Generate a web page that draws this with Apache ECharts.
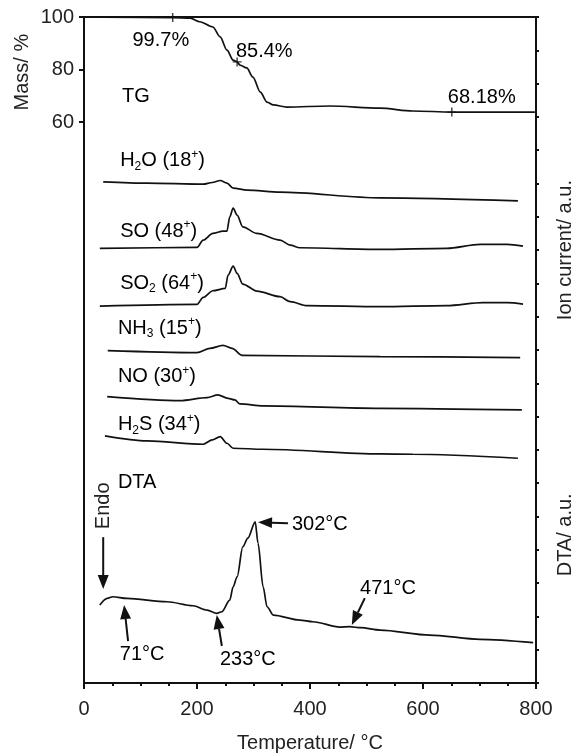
<!DOCTYPE html>
<html><head><meta charset="utf-8">
<script src="https://cdn.jsdelivr.net/npm/echarts@6/dist/echarts.min.js"></script>
<style>html,body{margin:0;padding:0;background:#fff}#c{width:576px;height:754px}</style>
</head><body><div id="c"></div>
<script>
// ---------------- data ----------------
const xTickValues = [0, 200, 400, 600, 800];
const massTickValues = [60, 80, 100];

// TG (mass %)
const tgTemp = [30, 157, 188, 205, 228, 241, 253, 264, 271, 276, 288, 299, 312, 324, 335, 359, 435, 524, 582, 651, 798];
const tgMass = [99.9, 99.8, 99.6, 98.2, 96.2, 92.4, 87.4, 83.6, 82.9, 81.7, 80.6, 77.1, 71.4, 67.6, 66.5, 65.7, 66.1, 65.3, 64.2, 63.8, 63.8];
const tgMarkTemp = [157, 271, 651];
const tgMarkMass = [99.8, 82.9, 63.8];

// Ion currents (a.u., stacked with offsets)
const h2oTemp = [34, 112, 211, 227, 241, 253, 264, 289, 347, 524, 768];
const h2oVal  = [15.05, 15.01, 14.98, 15.03, 15.09, 15.01, 14.86, 14.80, 14.74, 14.57, 14.48];

const soTemp = [28, 200, 211, 228, 246, 253, 258, 264, 271, 281, 306, 347, 365, 382, 524, 642, 701, 749, 777];
const soVal  = [13.05, 13.08, 13.30, 13.50, 13.57, 13.57, 14.00, 14.26, 14.05, 13.70, 13.50, 13.30, 13.15, 13.07, 13.02, 13.05, 13.17, 13.17, 13.12];

const so2Temp = [28, 200, 211, 228, 250, 255, 264, 271, 281, 306, 347, 365, 395, 524, 642, 706, 749, 777];
const so2Val  = [11.32, 11.37, 11.58, 11.78, 11.85, 12.25, 12.52, 12.30, 11.98, 11.77, 11.60, 11.45, 11.33, 11.30, 11.33, 11.42, 11.42, 11.38];

const nh3Temp = [42, 200, 223, 246, 262, 280, 524, 772];
const nh3Val  = [9.98, 9.92, 10.05, 10.14, 10.05, 9.84, 9.80, 9.77];

const noTemp = [41, 170, 218, 237, 255, 267, 276, 317, 524, 775];
const noVal  = [8.60, 8.48, 8.57, 8.65, 8.55, 8.50, 8.38, 8.32, 8.25, 8.20];

const h2sTemp = [37, 112, 211, 227, 241, 253, 264, 317, 524, 582, 768];
const h2sVal  = [7.42, 7.27, 7.17, 7.30, 7.40, 7.20, 7.05, 7.02, 6.88, 6.87, 6.75];

// DTA (a.u.)
const dtaTemp = [28, 41, 51, 76, 147, 193, 218, 235, 244, 258, 264, 271, 281, 290, 303, 308, 317, 324, 335, 382, 405, 453, 470, 490, 524, 612, 701, 795];
const dtaVal  = [2.34, 2.54, 2.59, 2.54, 2.44, 2.32, 2.19, 2.09, 2.14, 2.49, 2.89, 3.19, 4.09, 4.35, 4.84, 4.20, 2.89, 2.29, 2.04, 1.89, 1.84, 1.68, 1.69, 1.66, 1.59, 1.44, 1.31, 1.21];

// ---------------- chart ----------------
const FONT = '"Liberation Sans", Arial, sans-serif';
const TXT = '#222';
const LINE = '#111';
const FS = 20;

const chart = echarts.init(document.getElementById('c'), null, {renderer: 'canvas'});
const pairs = (xs, ys) => xs.map((x, i) => [x, ys[i]]);
const curve = (name, xs, ys, yi) => ({
  type: 'line', name, data: pairs(xs, ys), xAxisIndex: 0, yAxisIndex: yi,
  symbol: 'none', smooth: 0.3, smoothMonotone: 'x',
  lineStyle: {color: LINE, width: 1.7}, silent: true, z: 3
});

chart.setOption({
  animation: false,
  backgroundColor: '#fff',
  grid: {left: 84, right: 40, top: 17, bottom: 71, containLabel: false, outerBoundsMode: 'none'},
  xAxis: [{
    type: 'value', min: 0, max: 800, interval: 200, position: 'bottom',
    axisLine: {show: true, onZero: false, lineStyle: {color: LINE, width: 2}},
    axisTick: {show: true, inside: false, length: 6, lineStyle: {color: LINE, width: 2}},
    minorTick: {show: true, splitNumber: 4, length: 3, lineStyle: {color: LINE, width: 2}},
    splitLine: {show: false}, minorSplitLine: {show: false},
    axisLabel: {show: true, fontSize: FS, fontFamily: FONT, color: TXT, margin: 16},
    name: 'Temperature/ °C', nameLocation: 'middle', nameGap: 50,
    nameTextStyle: {fontSize: FS, fontFamily: FONT, color: TXT}
  }, {
    type: 'value', min: 0, max: 800, position: 'top',
    axisLine: {show: true, onZero: false, lineStyle: {color: LINE, width: 2}},
    axisTick: {show: false}, axisLabel: {show: false}, splitLine: {show: false}
  }],
  yAxis: [{
    type: 'value', min: -153.7, max: 100, position: 'left',
    axisLine: {show: true, onZero: false, lineStyle: {color: LINE, width: 2}},
    axisTick: {show: true, inside: false, length: 5, customValues: massTickValues, lineStyle: {color: LINE, width: 2}},
    axisLabel: {show: true, customValues: massTickValues, fontSize: FS, fontFamily: FONT, color: TXT, margin: 10},
    splitLine: {show: false}
  }, {
    type: 'value', min: 0, max: 20, interval: 4, position: 'right',
    axisLine: {show: true, onZero: false, lineStyle: {color: LINE, width: 2}},
    axisTick: {show: true, inside: false, length: 3, lineStyle: {color: LINE, width: 2}},
    minorTick: {show: true, splitNumber: 4, length: 3, lineStyle: {color: LINE, width: 2}},
    axisLabel: {show: false}, splitLine: {show: false}, minorSplitLine: {show: false}
  }],
  series: [
    curve('TG', tgTemp, tgMass, 0),
    {
      type: 'scatter', name: 'TG marks', data: pairs(tgMarkTemp, tgMarkMass), xAxisIndex: 0, yAxisIndex: 0,
      symbol: 'path://M-0.16,-1H0.16V1H-0.16Z M-1,-0.12H1V0.12H-1Z', symbolSize: 9,
      itemStyle: {color: LINE}, silent: true, z: 4
    },
    curve('H2O', h2oTemp, h2oVal, 1),
    curve('SO', soTemp, soVal, 1),
    curve('SO2', so2Temp, so2Val, 1),
    curve('NH3', nh3Temp, nh3Val, 1),
    curve('NO', noTemp, noVal, 1),
    curve('H2S', h2sTemp, h2sVal, 1),
    curve('DTA', dtaTemp, dtaVal, 1)
  ]
});

// ---------------- annotations ----------------
const rich = {
  n: {fontSize: FS, fontFamily: FONT, color: TXT, lineHeight: 24},
  s: {fontSize: 12, fontFamily: FONT, color: TXT, lineHeight: 13, verticalAlign: 'bottom'},
  p: {fontSize: 12, fontFamily: FONT, color: TXT, lineHeight: 18, verticalAlign: 'top'}
};
// [text, temperature, value, axis('m' mass / 'a' a.u.), align]
const textNotes = [
  ['{n|99.7%}', 136, 90.9, 'm', 'center'],
  ['{n|85.4%}', 319, 86.7, 'm', 'center'],
  ['{n|68.18%}', 704, 69.5, 'm', 'center'],
  ['{n|TG}', 92, 69.9, 'm', 'center'],
  ['{n|H}{s|2}{n|O (18}{p|+}{n|)}', 64, 15.7, 'a', 'left'],
  ['{n|SO (48}{p|+}{n|)}', 64, 13.57, 'a', 'left'],
  ['{n|SO}{s|2}{n| (64}{p|+}{n|)}', 64, 12.01, 'a', 'left'],
  ['{n|NH}{s|3}{n| (15}{p|+}{n|)}', 60, 10.66, 'a', 'left'],
  ['{n|NO (30}{p|+}{n|)}', 60, 9.19, 'a', 'left'],
  ['{n|H}{s|2}{n|S (34}{p|+}{n|)}', 60, 7.75, 'a', 'left'],
  ['{n|DTA}', 60, 6.01, 'a', 'left'],
  ['{n|71°C}', 103, 0.87, 'a', 'center'],
  ['{n|233°C}', 290, 0.72, 'a', 'center'],
  ['{n|302°C}', 368, 4.77, 'a', 'left'],
  ['{n|471°C}', 538, 2.85, 'a', 'center']
];
// [tailT, tailV, headT, headV]
const arrowNotes = [
  [34, 4.38, 34, 2.82],
  [78, 1.26, 71, 2.34],
  [244, 1.11, 235, 2.04],
  [361, 4.80, 308, 4.83],
  [497, 2.55, 474, 1.74]
];
const endoNote = [34, 5.32];

function toPx(T, v, axis) {
  return chart.convertToPixel({xAxisIndex: 0, yAxisIndex: axis === 'm' ? 0 : 1}, [T, v]);
}
const g = [];
textNotes.forEach(([t, T, v, ax, al]) => {
  const p = toPx(T, v, ax);
  g.push({type: 'text', x: p[0], y: p[1], z: 10,
    style: {text: t, rich, align: al, textAlign: al, verticalAlign: 'middle', textVerticalAlign: 'middle'}});
});
arrowNotes.forEach(([t0, v0, t1, v1]) => {
  const a = toPx(t0, v0, 'a'), b = toPx(t1, v1, 'a');
  const dx = b[0] - a[0], dy = b[1] - a[1], L = Math.hypot(dx, dy);
  const ux = dx / L, uy = dy / L, hl = 14, hw = 5.5;
  const bx = b[0] - ux * hl, by = b[1] - uy * hl;
  g.push({type: 'line', z: 10, shape: {x1: a[0], y1: a[1], x2: bx, y2: by}, style: {stroke: LINE, lineWidth: 2}});
  g.push({type: 'polygon', z: 10, shape: {points: [[b[0], b[1]], [bx - uy * hw, by + ux * hw], [bx + uy * hw, by - ux * hw]]}, style: {fill: LINE}});
});
const ep = toPx(endoNote[0], endoNote[1], 'a');
g.push({type: 'text', x: ep[0], y: ep[1], rotation: Math.PI / 2, z: 10,
  style: {text: 'Endo', font: FS + 'px ' + FONT, fill: TXT, align: 'center', textAlign: 'center', verticalAlign: 'middle', textVerticalAlign: 'middle'}});

// axis titles
const gr = chart.getModel().getComponent('grid').coordinateSystem.getRect();
const titleStyle = (text) => ({text, font: FS + 'px ' + FONT, fill: TXT, align: 'center', textAlign: 'center', verticalAlign: 'middle', textVerticalAlign: 'middle'});
const massTitleY = toPx(0, 79, 'm')[1];
g.push({type: 'text', x: 22, y: massTitleY, rotation: Math.PI / 2, style: titleStyle('Mass/ %')});
g.push({type: 'text', x: gr.x + gr.width + 29, y: toPx(0, 13, 'a')[1], rotation: Math.PI / 2, style: titleStyle('Ion current/ a.u.')});
g.push({type: 'text', x: gr.x + gr.width + 29, y: toPx(0, 4.45, 'a')[1], rotation: Math.PI / 2, style: titleStyle('DTA/ a.u.')});

chart.setOption({graphic: {elements: g}});
</script>
</body></html>
